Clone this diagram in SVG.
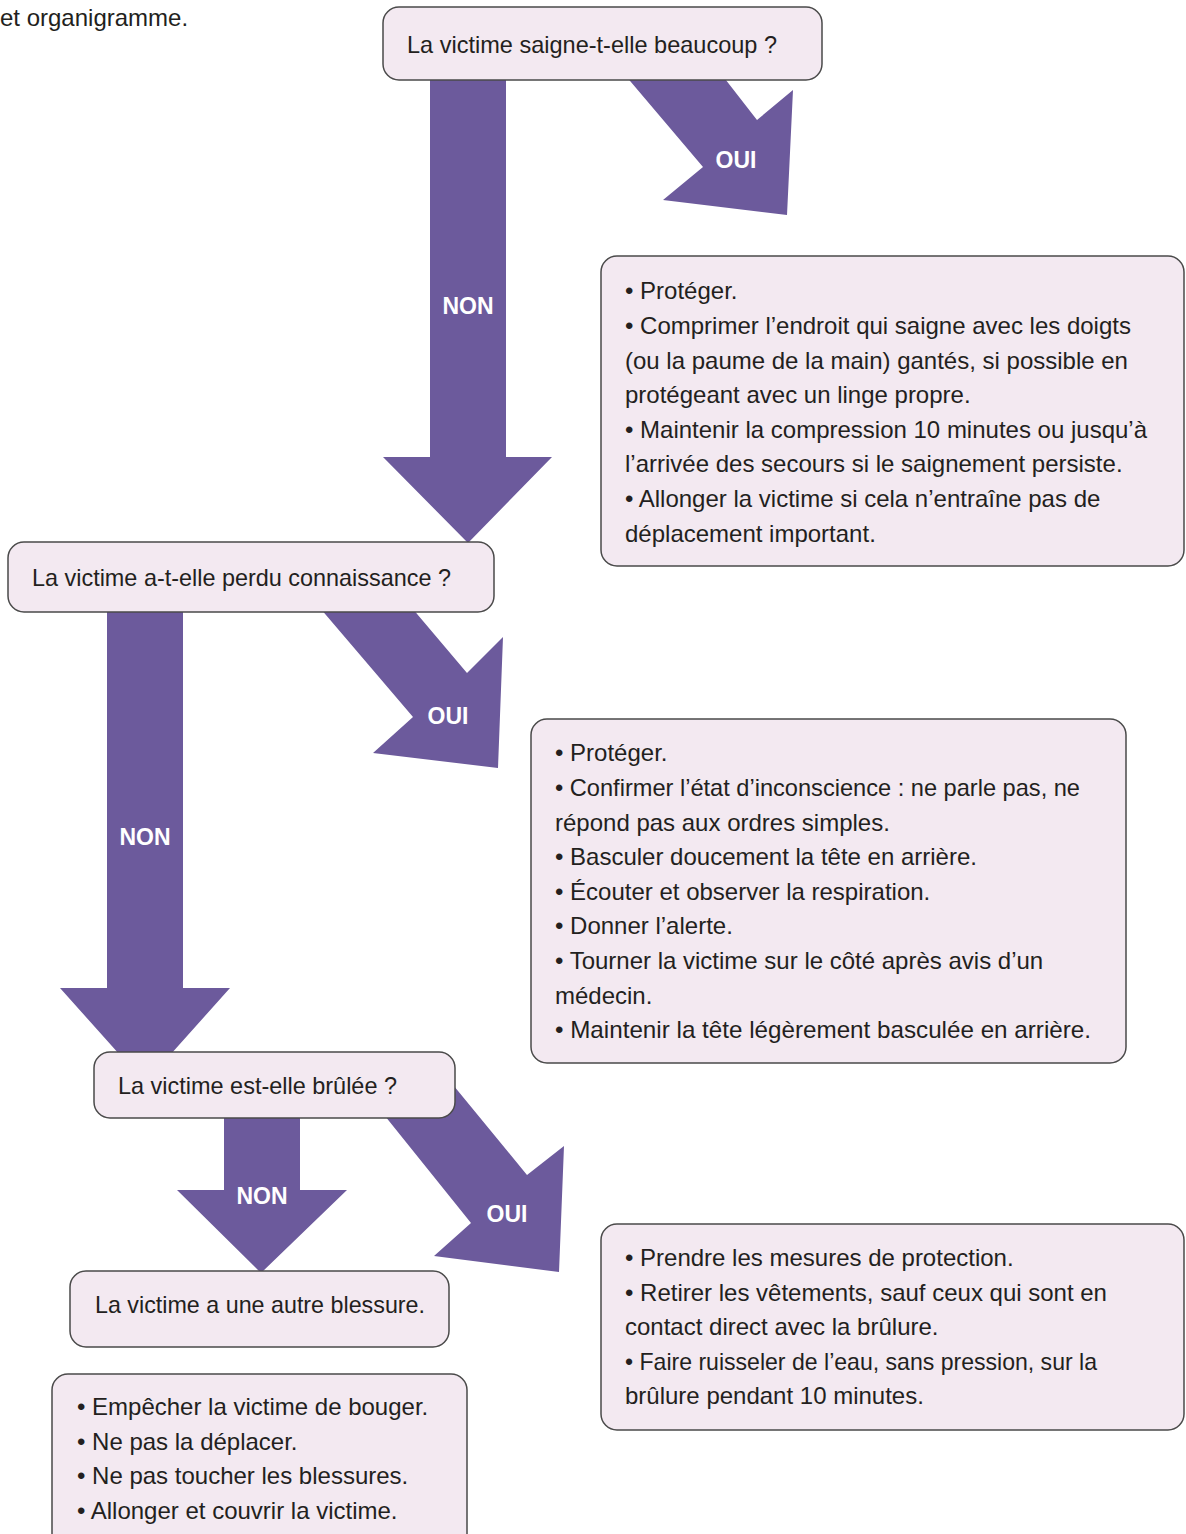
<svg xmlns="http://www.w3.org/2000/svg" width="1186" height="1534" viewBox="0 0 1186 1534">
<style>
.bg{fill:#ffffff}
.box{fill:#f3e9f1;stroke:#4a4a4a;stroke-width:1.5}
.arr{fill:#6c5a9c}
.t{font-family:"Liberation Sans",Arial,sans-serif;font-size:24px;fill:#231f20}
.lbl{font-family:"Liberation Sans",Arial,sans-serif;font-size:23px;font-weight:bold;fill:#ffffff;text-anchor:middle}
</style>
<rect class="bg" x="0" y="0" width="1186" height="1534"/>
<text class="t" x="0" y="26">et organigramme.</text>

<g id="connectors">
  <g id="c-q1-non">
    <polygon class="arr" points="430,75 506,75 506,457 552,457 468,543 383,457 430,457"/>
    <text class="lbl" x="468" y="314">NON</text>
  </g>
  <g id="c-q1-oui">
    <polygon class="arr" points="625,75 722,75 757,120 793,90 787,215 663,200 703,167"/>
    <text class="lbl" x="736" y="168">OUI</text>
  </g>
  <g id="c-q2-non">
    <polygon class="arr" points="107,608 183,608 183,988 230,988 145,1083 60,988 107,988"/>
    <text class="lbl" x="145" y="845">NON</text>
  </g>
  <g id="c-q2-oui">
    <polygon class="arr" points="320,608 412,608 467,673 503,637 498,768 373,753 413,717"/>
    <text class="lbl" x="448" y="724">OUI</text>
  </g>
  <g id="c-q3-non">
    <polygon class="arr" points="224,1114 300,1114 300,1190 347,1190 261,1273 177,1190 224,1190"/>
    <text class="lbl" x="262" y="1204">NON</text>
  </g>
  <g id="c-q3-oui">
    <polygon class="arr" points="385,1116 449,1080 527,1175 564,1146 559,1272 434,1256 471,1223"/>
    <text class="lbl" x="507" y="1222">OUI</text>
  </g>
</g>

<g id="q1">
  <rect class="box" x="383" y="7" width="439" height="73" rx="16"/>
  <text class="t" x="407" y="53" textLength="370" lengthAdjust="spacingAndGlyphs">La victime saigne-t-elle beaucoup ?</text>
</g>

<g id="a1">
  <rect class="box" x="601" y="256" width="583" height="310" rx="16"/>
  <text class="t">
    <tspan x="625" y="299">• Protéger.</tspan>
    <tspan x="625" y="334">• Comprimer l’endroit qui saigne avec les doigts</tspan>
    <tspan x="625" y="369">(ou la paume de la main) gantés, si possible en</tspan>
    <tspan x="625" y="403">protégeant avec un linge propre.</tspan>
    <tspan x="625" y="438">• Maintenir la compression 10 minutes ou jusqu’à</tspan>
    <tspan x="625" y="472">l’arrivée des secours si le saignement persiste.</tspan>
    <tspan x="625" y="507">• Allonger la victime si cela n’entraîne pas de</tspan>
    <tspan x="625" y="542">déplacement important.</tspan>
  </text>
</g>

<g id="q2">
  <rect class="box" x="8" y="542" width="486" height="70" rx="16"/>
  <text class="t" x="32" y="586" textLength="419" lengthAdjust="spacingAndGlyphs">La victime a-t-elle perdu connaissance ?</text>
</g>

<g id="a2">
  <rect class="box" x="531" y="719" width="595" height="344" rx="16"/>
  <text class="t">
    <tspan x="555" y="761">• Protéger.</tspan>
    <tspan x="555" y="831">répond pas aux ordres simples.</tspan>
    <tspan x="555" y="865">• Basculer doucement la tête en arrière.</tspan>
    <tspan x="555" y="900">• Écouter et observer la respiration.</tspan>
    <tspan x="555" y="934">• Donner l’alerte.</tspan>
    <tspan x="555" y="969">• Tourner la victime sur le côté après avis d’un</tspan>
    <tspan x="555" y="1004">médecin.</tspan>
  </text>
  <text class="t" x="555" y="796" textLength="525" lengthAdjust="spacingAndGlyphs">• Confirmer l’état d’inconscience : ne parle pas, ne</text>
  <text class="t" x="555" y="1038" textLength="536" lengthAdjust="spacingAndGlyphs">• Maintenir la tête légèrement basculée en arrière.</text>
</g>

<g id="q3">
  <rect class="box" x="94" y="1052" width="361" height="66" rx="16"/>
  <text class="t" x="118" y="1094" textLength="279" lengthAdjust="spacingAndGlyphs">La victime est-elle brûlée ?</text>
</g>

<g id="a3">
  <rect class="box" x="601" y="1224" width="583" height="206" rx="16"/>
  <text class="t">
    <tspan x="625" y="1266">• Prendre les mesures de protection.</tspan>
    <tspan x="625" y="1301">• Retirer les vêtements, sauf ceux qui sont en</tspan>
    <tspan x="625" y="1335">contact direct avec la brûlure.</tspan>
    <tspan x="625" y="1404">brûlure pendant 10 minutes.</tspan>
  </text>
  <text class="t" x="625" y="1370" textLength="472" lengthAdjust="spacingAndGlyphs">• Faire ruisseler de l’eau, sans pression, sur la</text>
</g>

<g id="q4">
  <rect class="box" x="70" y="1271" width="379" height="76" rx="16"/>
  <text class="t" x="95" y="1313" textLength="330" lengthAdjust="spacingAndGlyphs">La victime a une autre blessure.</text>
</g>

<g id="a4">
  <rect class="box" x="52" y="1374" width="415" height="180" rx="16"/>
  <text class="t">
    <tspan x="77" y="1415">• Empêcher la victime de bouger.</tspan>
    <tspan x="77" y="1450">• Ne pas la déplacer.</tspan>
    <tspan x="77" y="1484">• Ne pas toucher les blessures.</tspan>
    <tspan x="77" y="1519">• Allonger et couvrir la victime.</tspan>
  </text>
</g>
</svg>
